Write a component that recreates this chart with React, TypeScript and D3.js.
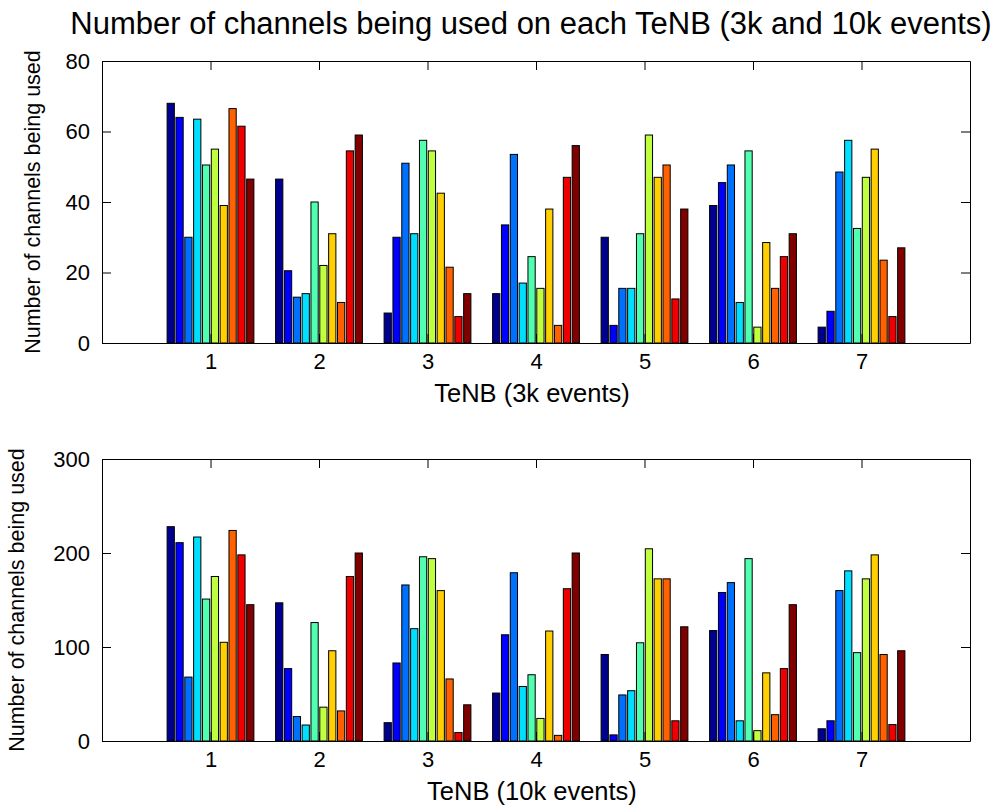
import * as d3 from "d3";
import { useRef, useEffect } from "react";

// group labels on the x axis
const groups = [1, 2, 3, 4, 5, 6, 7];

// one colour per bar inside a group (jet-like)
const barColors = [
  "#00008f",
  "#0000ff",
  "#0070ff",
  "#00dfff",
  "#50ffaf",
  "#bfff40",
  "#ffcf00",
  "#ff6000",
  "#ef0000",
  "#800000",
];

// 3k events, one row per TeNB
const values3k = [
  [68, 64, 30, 63.5, 50.5, 55, 39, 66.5, 61.5, 46.5],
  [46.5, 20.5, 13, 14, 40, 22, 31, 11.5, 54.5, 59],
  [8.5, 30, 51, 31, 57.5, 54.5, 42.5, 21.5, 7.5, 14],
  [14, 33.5, 53.5, 17, 24.5, 15.5, 38, 5, 47, 56],
  [30, 5, 15.5, 15.5, 31, 59, 47, 50.5, 12.5, 38],
  [39, 45.5, 50.5, 11.5, 54.5, 4.5, 28.5, 15.5, 24.5, 31],
  [4.5, 9, 48.5, 57.5, 32.5, 47, 55, 23.5, 7.5, 27],
];

// 10k events
const values10k = [
  [228, 211, 68, 217, 151, 175, 105, 224, 198, 145],
  [147, 77, 26, 17, 126, 36, 96, 32, 175, 200],
  [19.5, 83, 166, 119.5, 196, 194, 160, 66, 9, 38.5],
  [51, 113, 179, 58, 70.5, 24, 117, 6, 162, 200],
  [92, 6.5, 49, 53.5, 104.5, 204.5, 172.5, 172.5, 21.5, 121.5],
  [117.5, 158, 168.5, 21.5, 194, 11, 72.5, 28, 77, 145],
  [13, 21.5, 160, 181, 94, 172.5, 198, 92, 17.5, 96],
];

const yTicks3k = [0, 20, 40, 60, 80];
const yTicks10k = [0, 100, 200, 300];

const FONT = "'Liberation Sans', Arial, Helvetica, sans-serif";

function drawPanel(svg, opts) {
  const { top, bottom, left, right, data, yMax, yTicks, xLabel } = opts;

  const x = d3.scaleLinear().domain([0, 8]).range([left, right]);
  const y = d3.scaleLinear().domain([0, yMax]).range([bottom, top]);

  const groupWidth = (x(1) - x(0)) * 0.8;
  const inner = d3
    .scaleBand()
    .domain(d3.range(barColors.length))
    .range([-groupWidth / 2, groupWidth / 2])
    .paddingInner(0.18);

  const g = svg.append("g");

  // bars
  g.append("g")
    .selectAll("g")
    .data(data)
    .join("g")
    .attr("transform", (d, i) => `translate(${x(groups[i])},0)`)
    .selectAll("rect")
    .data((d) => d)
    .join("rect")
    .attr("x", (d, j) => inner(j))
    .attr("width", inner.bandwidth())
    .attr("y", (d) => y(d))
    .attr("height", (d) => y(0) - y(d))
    .attr("fill", (d, j) => barColors[j])
    .attr("stroke", "#000")
    .attr("stroke-width", 1);

  const style = (sel) => {
    sel.selectAll("text").attr("font-family", FONT).attr("fill", "#000");
    sel.selectAll("line").attr("stroke", "#000");
    sel.select(".domain").attr("stroke", "#000");
  };

  // left axis
  g.append("g")
    .attr("transform", `translate(${left},0)`)
    .call(
      d3.axisLeft(y).tickValues(yTicks).tickSizeInner(-9).tickSizeOuter(0).tickPadding(12)
    )
    .call(style)
    .call((a) => a.selectAll("text").attr("font-size", 22));

  // right axis
  g.append("g")
    .attr("transform", `translate(${right},0)`)
    .call(
      d3.axisRight(y).tickValues(yTicks).tickSizeInner(-9).tickSizeOuter(0).tickFormat(() => "")
    )
    .call(style);

  // top axis
  g.append("g")
    .attr("transform", `translate(0,${top})`)
    .call(
      d3.axisTop(x).tickValues(groups).tickSizeInner(-9).tickSizeOuter(0).tickFormat(() => "")
    )
    .call(style);

  // bottom axis
  g.append("g")
    .attr("transform", `translate(0,${bottom})`)
    .call(
      d3.axisBottom(x).tickValues(groups).tickSizeInner(-9).tickSizeOuter(0).tickPadding(10)
    )
    .call(style)
    .call((a) => a.selectAll("text").attr("font-size", 22));

  // x label
  g.append("text")
    .attr("x", 532)
    .attr("y", bottom + 59)
    .attr("text-anchor", "middle")
    .attr("font-family", FONT)
    .attr("font-size", 25.5)
    .text(xLabel);

  // y label
  g.append("text")
    .attr("transform", `translate(${opts.yLabelX},${(top + bottom) / 2}) rotate(-90)`)
    .attr("text-anchor", "middle")
    .attr("font-family", FONT)
    .attr("font-size", 21.5)
    .text("Number of channels being used");
}

export default function App() {
  const svgRef = useRef(null);

  useEffect(() => {
    const width = 997;
    const height = 808;
    const svg = d3.select(svgRef.current);
    svg.selectAll("*").remove();
    svg.attr("width", width).attr("height", height).attr("viewBox", [0, 0, width, height]);

    svg
      .append("rect")
      .attr("width", width)
      .attr("height", height)
      .attr("fill", "#fff");

    svg
      .append("text")
      .attr("x", 531)
      .attr("y", 34)
      .attr("text-anchor", "middle")
      .attr("font-family", FONT)
      .attr("font-size", 31)
      .text("Number of channels being used on each TeNB (3k and 10k events)");

    drawPanel(svg, {
      top: 61,
      bottom: 343,
      left: 102,
      right: 970,
      data: values3k,
      yMax: 80,
      yTicks: yTicks3k,
      xLabel: "TeNB (3k events)",
      yLabelX: 40,
    });

    drawPanel(svg, {
      top: 459,
      bottom: 741,
      left: 102,
      right: 970,
      data: values10k,
      yMax: 300,
      yTicks: yTicks10k,
      xLabel: "TeNB (10k events)",
      yLabelX: 24,
    });
  }, []);

  return (
    <svg
      ref={svgRef}
      style={{ position: "absolute", left: 0, top: 0, display: "block" }}
    ></svg>
  );
}
